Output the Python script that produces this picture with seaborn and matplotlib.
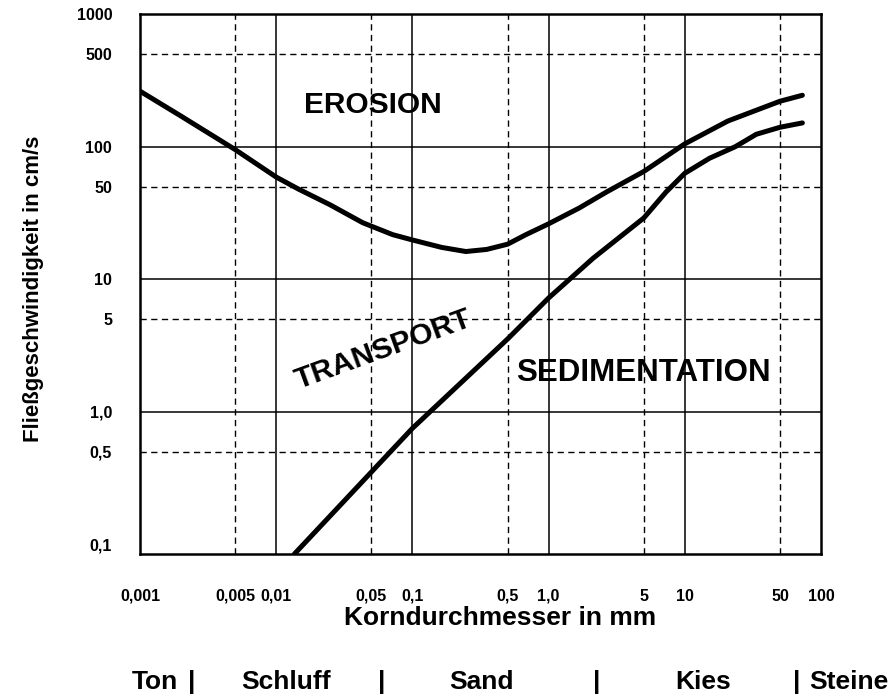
import matplotlib
matplotlib.use("Agg")
import matplotlib.pyplot as plt
import matplotlib.transforms as mtransforms
import seaborn as sns
import pandas as pd

# ---------------- data ----------------
erosion_x = [0.001, 0.002, 0.005, 0.01, 0.0145, 0.0248, 0.0432,
             0.0718, 0.1, 0.164, 0.247, 0.351, 0.5, 0.681, 1.0, 1.68, 2.67, 5.0, 10.0,
             20.7, 50.0, 73.0]
erosion_y = [262, 170, 95, 59, 48, 36.5, 26.7,
             21.7, 19.8, 17.4, 16.2, 16.8, 18.4, 21.7, 26.2, 34.5, 45.6, 65, 105,
             156, 220, 244]

sediment_x = [0.0136, 0.1, 0.5, 1.0, 2.12, 5.0, 7.3, 10.0, 15.2, 23.5,
              33.5, 50.0, 73.0]
sediment_y = [0.085, 0.753, 3.55, 7.23, 14.4, 29, 45.6, 63, 81.8, 100,
              124, 140, 151]

x_ticks = [0.001, 0.005, 0.01, 0.05, 0.1, 0.5, 1.0, 5, 10, 50, 100]
x_labels = ["0,001", "0,005", "0,01", "0,05", "0,1", "0,5", "1,0", "5", "10", "50", "100"]
y_ticks = [0.1, 0.5, 1.0, 5, 10, 50, 100, 500, 1000]
y_labels = ["0,1", "0,5", "1,0", "5", "10", "50", "100", "500", "1000"]

grid_x_solid = [0.01, 0.1, 1.0, 10]
grid_x_dashed = [0.005, 0.05, 0.5, 5, 50]
grid_y_solid = [1.0, 10, 100]
grid_y_dashed = [0.5, 5, 50, 500]

region_labels = ["EROSION", "TRANSPORT", "SEDIMENTATION"]
region_x = [0.0514, 0.0608, 4.93]
region_y = [206, 2.93, 1.97]
region_rot = [0, 20, 0]

class_names = ["Ton", "Schluff", "Sand", "Kies", "Steine"]
class_centers = [0.00129, 0.0118, 0.324, 13.6, 161]
class_bounds = [0.00241, 0.0598, 2.27, 66.7]

# ---------------- style ----------------
sns.set_theme(style="white")
plt.rcParams["font.family"] = ["Liberation Sans", "DejaVu Sans"]
plt.rcParams["font.weight"] = "bold"
for k in ["text.color", "axes.labelcolor", "xtick.color", "ytick.color", "axes.edgecolor"]:
    plt.rcParams[k] = "black"

fig = plt.figure(figsize=(8.94, 6.97), dpi=100)
ax = fig.add_axes([140 / 894, 1 - 554 / 697, 681 / 894, 540 / 697])
ax.set_xscale("log")
ax.set_yscale("log")
ax.set_xlim(0.001, 100)
ax.set_ylim(0.085, 1000)

dash = (0, (4.5, 3.2))
for v in grid_x_solid:
    ax.axvline(v, color="black", lw=1.1, zorder=1)
for v in grid_x_dashed:
    ax.axvline(v, color="black", lw=1.0, ls=dash, zorder=1)
for v in grid_y_solid:
    ax.axhline(v, color="black", lw=1.1, zorder=1)
for v in grid_y_dashed:
    ax.axhline(v, color="black", lw=1.0, ls=dash, zorder=1)

df_e = pd.DataFrame({"d": erosion_x, "v": erosion_y})
df_s = pd.DataFrame({"d": sediment_x, "v": sediment_y})
sns.lineplot(data=df_e, x="d", y="v", ax=ax, color="black", lw=3.6, sort=False,
             estimator=None, zorder=3, solid_capstyle="round", solid_joinstyle="round")
sns.lineplot(data=df_s, x="d", y="v", ax=ax, color="black", lw=3.6, sort=False,
             estimator=None, zorder=3, solid_capstyle="round", solid_joinstyle="round")

ax.set_xticks(x_ticks, labels=x_labels)
ax.set_yticks(y_ticks, labels=y_labels)
ax.minorticks_off()
ax.tick_params(axis="both", length=0, labelsize=11.5, colors="black")
ax.tick_params(axis="x", pad=25)
ax.tick_params(axis="y", pad=20)
for lab in ax.get_xticklabels() + ax.get_yticklabels():
    lab.set_fontweight("bold")

for s in ax.spines.values():
    s.set_color("black")
    s.set_linewidth(1.8)
    s.set_zorder(4)

ax.set_xlabel("Korndurchmesser in mm", fontsize=19, fontweight="bold", color="black")
ax.xaxis.set_label_coords((500 - 140) / 681, -(606 - 554) / 540)
ax.set_ylabel("Fließgeschwindigkeit in cm/s", fontsize=16, fontweight="bold", color="black")
ax.yaxis.set_label_coords(-(140 - 44) / 681, (554 - 289) / 540)

label_sizes = {"EROSION": 21.5, "TRANSPORT": 21.5, "SEDIMENTATION": 22.5}
for t, x, y, r in zip(region_labels, region_x, region_y, region_rot):
    ax.text(x, y, t, fontsize=label_sizes[t], fontweight="bold", ha="center", va="center",
            rotation=r, rotation_mode="anchor", zorder=5, color="black")

trans = mtransforms.blended_transform_factory(ax.transData, fig.transFigure)
yrow = 1 - 682 / 697
for name, cx in zip(class_names, class_centers):
    ax.text(cx, yrow, name, transform=trans, fontsize=19, fontweight="bold",
            ha="center", va="center", clip_on=False, color="black")
for bx in class_bounds:
    ax.text(bx, yrow, "|", transform=trans, fontsize=19, fontweight="bold",
            ha="center", va="center", clip_on=False, color="black")

fig.savefig("out.png", dpi=100, facecolor="white")
